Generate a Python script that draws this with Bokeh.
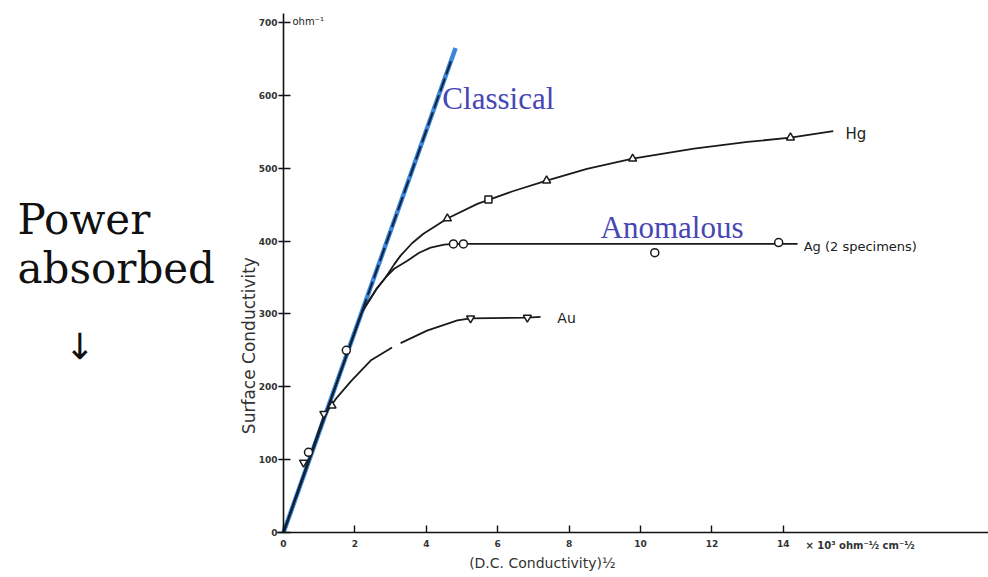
import math
from bokeh.plotting import figure
from bokeh.models import Range1d, FixedTicker, LinearAxis
from bokeh.core.properties import value
from bokeh.embed import file_html
from bokeh.resources import INLINE

NaN = float("nan")

# ---- data ----
x_ticks = [0, 2, 4, 6, 8, 10, 12, 14]
y_ticks = [0, 100, 200, 300, 400, 500, 600, 700]

classical_u = [0, 4.82]
classical_v = [0, 665]
classical_dash_u = [0, 4.72]
classical_dash_v = [0, 651]

hg_curve_u = [0, 2.2, 2.6, 2.86, 3.1, 3.28, 3.6, 3.92, 4.59, 5.43, 6.4, 7.37, 8.5, 9.78, 11.5, 13.0, 14.2, 15.4]
hg_curve_v = [0, 303, 334, 350, 368, 380, 397, 410, 431, 451, 468, 483, 499, 513, 527, 536, 542, 551]

ag_curve_u = [0, 2.2, 2.6, 2.86, 3.1, 3.47, 3.8, 4.12, 4.5, 4.76, 14.4]
ag_curve_v = [0, 303, 334, 350, 362, 373, 384, 391, 395, 396, 396]

au_curve_u = [0, 1.13, 1.46, 1.88, 2.44, 3.04, NaN, 3.28, 4.02, 4.87, 5.24, 6.83, 7.2]
au_curve_v = [0, 160, 183, 207, 236, 254, NaN, 260, 277, 291, 294, 295, 296]

hg_tri_u = [1.36, 4.59, 7.37, 9.78, 14.2]
hg_tri_v = [174, 431, 483, 513, 542]
hg_sq_u = [5.74]
hg_sq_v = [457]

ag_pts_u = [0.7, 1.76, 4.76, 5.04, 10.4, 13.87]
ag_pts_v = [110, 250, 396, 396, 384, 398]

au_pts_u = [0.56, 1.13, 5.24, 6.83]
au_pts_v = [96, 163, 294, 295]

# ---- figure: frame covers whole canvas, axes cross at the origin ----
W, H = 988, 572
PX_U = 35.7      # pixels per x unit
PX_V = 0.7286    # pixels per y unit
X0, Y0 = 283, 532  # pixel position of the origin

p = figure(width=W, height=H, output_backend="svg", toolbar_location=None,
           x_range=Range1d(-X0 / PX_U, (W - X0) / PX_U),
           y_range=Range1d(-(H - Y0) / PX_V, Y0 / PX_V),
           x_axis_location=None, y_axis_location=None,
           min_border=0, background_fill_color="white", border_fill_color="white")
p.xgrid.visible = False
p.ygrid.visible = False
p.outline_line_color = None

xaxis = LinearAxis(fixed_location=0, ticker=FixedTicker(ticks=x_ticks), bounds=(-0.2, (W - X0) / PX_U))
yaxis = LinearAxis(fixed_location=0, ticker=FixedTicker(ticks=y_ticks), bounds=(0, 712))
for ax in (xaxis, yaxis):
    ax.axis_line_color = "#111111"
    ax.axis_line_width = 1.6
    ax.major_tick_line_color = "#111111"
    ax.major_tick_line_width = 1.4
    ax.minor_tick_line_color = None
    ax.major_label_text_font = "DejaVu Sans"
    ax.major_label_text_font_size = "9px"
    ax.major_label_text_color = "#333333"
    ax.major_label_text_font_style = "bold"
xaxis.major_tick_in = 7
xaxis.major_tick_out = 0
xaxis.major_label_standoff = 7
yaxis.major_tick_in = 7
yaxis.major_tick_out = 5
yaxis.major_label_standoff = 1
p.add_layout(xaxis, "below")
p.add_layout(yaxis, "left")

# classical line (blue highlight + dashed original)
p.line(classical_u, classical_v, line_color="#3a86d8", line_width=4.5)

# measured curves
p.line(hg_curve_u, hg_curve_v, line_color="#1a1a1a", line_width=1.8)
p.line(ag_curve_u, ag_curve_v, line_color="#1a1a1a", line_width=1.8)
p.line(au_curve_u, au_curve_v, line_color="#1a1a1a", line_width=1.8)

p.line(classical_dash_u, classical_dash_v, line_color="#10243f", line_width=2,
       line_dash="14 4")

# markers
p.scatter(hg_tri_u, hg_tri_v, marker="triangle", size=8, fill_color="white",
          line_color="#1a1a1a", line_width=1.5)
p.scatter(hg_sq_u, hg_sq_v, marker="square", size=7, fill_color="white",
          line_color="#1a1a1a", line_width=1.5)
p.scatter(ag_pts_u, ag_pts_v, marker="circle", size=8, fill_color="white",
          line_color="#1a1a1a", line_width=1.5)
p.scatter(au_pts_u, au_pts_v, marker="inverted_triangle", size=8, fill_color="white",
          line_color="#1a1a1a", line_width=1.5)

# annotations
blue = "#4646b4"
serif_blue = dict(text_font=value("Liberation Serif"), text_font_size="31px",
                  text_color=blue, text_baseline="middle")
p.text([4.45], [596], text=["Classical"], **serif_blue)
p.text([8.88], [419], text=["Anomalous"], **serif_blue)

hand = dict(text_font=value("DejaVu Sans"), text_color="#222222", text_baseline="middle")
p.text([15.74], [547], text=["Hg"], text_font_size="15px", **hand)
p.text([14.57], [392], text=["Ag  (2 specimens)"], text_font_size="13px", **hand)
p.text([7.67], [295], text=["Au"], text_font_size="14px", **hand)
p.text([0.25], [702], text=["ohm⁻¹"], text_font_size="10px", **hand)

big = dict(text_font=value("DejaVu Serif"), text_font_size="42px",
           text_color="#111111", text_baseline="middle")
p.text([-7.45], [430], text=["Power"], **big)
p.text([-7.45], [363], text=["absorbed"], **big)
p.text([-5.71], [255], text=["↓"], text_font=value("DejaVu Sans"), text_font_size="36px",
       text_color="#111111", text_align="center", text_baseline="middle")

p.text([-0.98], [256.5], text=["Surface Conductivity"], angle=math.pi / 2,
       text_font=value("DejaVu Sans"), text_font_size="17px", text_color="#333333",
       text_align="center", text_baseline="middle")
p.text([7.25], [-42.5], text=["(D.C. Conductivity)½"],
       text_font=value("DejaVu Sans"), text_font_size="14px", text_color="#333333",
       text_align="center", text_baseline="middle")
p.text([14.62], [-17.8], text=["× 10³  ohm⁻½ cm⁻½"],
       text_font=value("DejaVu Sans"), text_font_size="10px", text_color="#333333",
       text_font_style="bold", text_align="left", text_baseline="middle")

open("out.html", "w").write(file_html(p, INLINE))
